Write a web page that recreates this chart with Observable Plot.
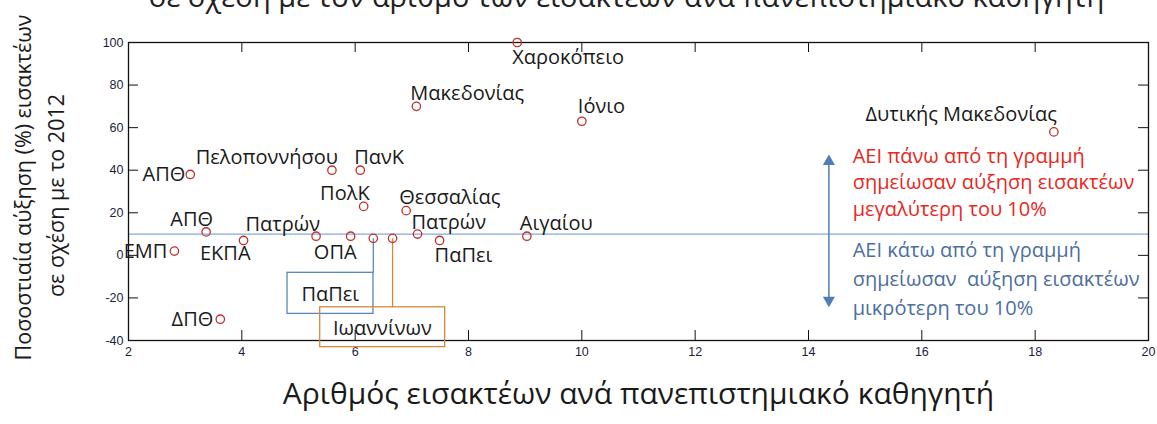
<!DOCTYPE html>
<html>
<head>
<meta charset="utf-8">
<script src="https://cdn.jsdelivr.net/npm/d3@7"></script>
<script src="https://cdn.jsdelivr.net/npm/@observablehq/plot@0.6"></script>
<style>
  html, body { margin: 0; padding: 0; background: white; }
  #chart { width: 1157px; height: 424px; overflow: hidden; }
</style>
</head>
<body>
<div id="chart"></div>
<script>
// ---- data ----
const universities = ["Χαροκόπειο","Μακεδονίας","Ιόνιο","Δυτικής Μακεδονίας","ΑΠΘ","Πελοποννήσου","ΠανΚ","ΠολΚ","Θεσσαλίας","Πατρών","ΠαΠει","Αιγαίου","Πατρών","ΟΠΑ","ΠαΠει","Ιωαννίνων","ΑΠΘ","ΕΚΠΑ","ΕΜΠ","ΔΠΘ"];
const studentsPerProfessor = [8.86, 7.08, 10.0, 18.33, 3.09, 5.59, 6.09, 6.15, 6.9, 7.1, 7.49, 9.03, 5.31, 5.92, 6.32, 6.66, 3.37, 4.03, 2.81, 3.62];
const increasePct = [100, 70, 63, 58, 38, 40, 40, 23, 21, 10, 7, 9, 9, 9, 8, 8, 11, 7, 2, -30];
const xTicks = [2, 4, 6, 8, 10, 12, 14, 16, 18, 20];
const yTicks = [-40, -20, 0, 20, 40, 60, 80, 100];
const threshold = 10;

const titleText = "σε σχέση με τον αριθμό των εισακτέων ανά πανεπιστημιακό καθηγητή";
const xLabel = "Αριθμός εισακτέων ανά πανεπιστημιακό καθηγητή";
const yLabel1 = "Ποσοστιαία αύξηση (%) εισακτέων";
const yLabel2 = "σε σχέση με το 2012";
const aboveNote = "ΑΕΙ πάνω από τη γραμμή\nσημείωσαν αύξηση εισακτέων\nμεγαλύτερη του 10%";
const belowNote = "ΑΕΙ κάτω από τη γραμμή\nσημείωσαν  αύξηση εισακτέων\nμικρότερη του 10%";

// callout boxes (index of point they refer to)
const callouts = [
  {point: 14, label: "ΠαΠει", x1: 4.806, x2: 6.323, y1: -8.2, y2: -27.5, tx: 5.56, ty: -18.3, color: "#5b86b8"},
  {point: 15, label: "Ιωαννίνων", x1: 5.383, x2: 7.588, y1: -24.4, y2: -43.1, tx: 6.48, ty: -34.2, color: "#d2893c"}
];
const arrowSpec = {x: 14.36, top: 46, bottom: -23, noteX: 14.78, aboveY: 35.0, belowY: -10.0};

// label placement (style) per point
const placement = [
  ["start",-5,15],["start",-6,-13],["start",-4,-15],["end",3,-17],["end",-5,0],
  ["end",6,-13],["start",-6,-13],["end",6,-13],["start",-7,-13],["start",-6,-11],
  ["start",-5,15],["start",-7,-13],["end",4,-12],["end",6,16],null,
  null,["end",7,-12],["end",7,13],["end",-7,0],["end",-7,0]
];

const points = universities.map((name, i) => ({name, x: studentsPerProfessor[i], y: increasePct[i], i}));

const W = 1157, H = 424, mL = 128, mR = 9, mT = 42, mB = 84;
const fw = W - mL - mR, fh = H - mT - mB;
const labelFont = "Open Sans, Noto Sans, sans-serif";

const labelMarks = points.filter(p => placement[p.i]).map(p => {
  const [anchor, dx, dy] = placement[p.i];
  return Plot.text([p], {x: "x", y: "y", text: "name", textAnchor: anchor, dx, dy,
    fontSize: 20, fill: "#1a1a1a", fontFamily: labelFont});
});

const chart = Plot.plot({
  width: W, height: H,
  marginLeft: mL, marginRight: mR, marginTop: mT, marginBottom: mB,
  x: {domain: [2, 20]},
  y: {domain: [-40, 100]},
  style: {background: "white", overflow: "visible"},
  marks: [
    // threshold line
    Plot.ruleY([threshold], {stroke: "#86aad4", strokeWidth: 1.2}),
    // inward ticks
    Plot.ruleX(xTicks.slice(1, -1), {insetTop: fh - 10, stroke: "#111"}),
    Plot.ruleX(xTicks.slice(1, -1), {insetBottom: fh - 10, stroke: "#111"}),
    Plot.ruleY(yTicks.slice(1, -1), {insetRight: fw - 10, stroke: "#111"}),
    Plot.ruleY(yTicks.slice(1, -1), {insetLeft: fw - 10, stroke: "#111"}),
    Plot.frame({stroke: "#111", strokeWidth: 1.3}),
    Plot.axisX({ticks: xTicks, tickSize: 0, tickPadding: 7, fontSize: 12.5, fill: "#1c1c40", fontFamily: "Liberation Sans, Arial, sans-serif", tickFormat: d => String(d)}),
    Plot.axisY({ticks: yTicks, tickSize: 0, tickPadding: 5, fontSize: 12.5, fill: "#1c1c40", fontFamily: "Liberation Sans, Arial, sans-serif", tickFormat: d => String(d)}),
    // callout leader lines and boxes
    Plot.link(callouts, {x1: d => studentsPerProfessor[d.point], x2: d => studentsPerProfessor[d.point],
      y1: d => increasePct[d.point], y2: "y1", stroke: "color", strokeWidth: 1.3}),
    Plot.rect(callouts, {x1: "x1", x2: "x2", y1: "y1", y2: "y2", fill: "white", fillOpacity: 0, stroke: "color", strokeWidth: 1.3}),
    Plot.text(callouts, {x: "tx", y: "ty", text: "label", fontSize: 20, fill: "#1a1a1a", fontFamily: labelFont}),
    // points
    Plot.dot(points, {x: "x", y: "y", r: 4.2, stroke: "#c0302a", strokeWidth: 1.3, fill: "none"}),
    ...labelMarks,
    // double arrow
    Plot.link([arrowSpec], {x1: "x", x2: "x", y1: "top", y2: "bottom", stroke: "#4f7db8", strokeWidth: 1.5}),
    Plot.dot([arrowSpec], {x: "x", y: "top", symbol: "triangle", r: 4.5, fill: "#4f7db8", dy: 4}),
    Plot.dot([arrowSpec], {x: "x", y: "bottom", symbol: "triangle", r: 4.5, fill: "#4f7db8", rotate: 180, dy: -4}),
    Plot.text([arrowSpec], {x: "noteX", y: "aboveY", text: () => aboveNote, textAnchor: "start", lineHeight: 1.33,
      fontSize: 20, fill: "#e8281e", fontFamily: labelFont}),
    Plot.text([arrowSpec], {x: "noteX", y: "belowY", text: () => belowNote, textAnchor: "start", lineHeight: 1.45,
      fontSize: 20, fill: "#4d6e9e", fontFamily: labelFont}),
    // titles
    Plot.text([titleText], {frameAnchor: "top", dx: -12, dy: -36, lineAnchor: "bottom", text: d => d, fontSize: 29, fill: "#222", fontFamily: labelFont}),
    Plot.text([xLabel], {frameAnchor: "bottom", dy: 63, text: d => d, fontSize: 30, fill: "#1a1a1a", fontFamily: labelFont}),
    Plot.text([yLabel1], {frameAnchor: "left", textAnchor: "middle", dx: -104, dy: -4, rotate: -90, text: d => d, fontSize: 21.5, fill: "#1a1a1a", fontFamily: labelFont}),
    Plot.text([yLabel2], {frameAnchor: "left", textAnchor: "middle", dx: -71, dy: 4, rotate: -90, text: d => d, fontSize: 21.5, fill: "#1a1a1a", fontFamily: labelFont})
  ]
});
document.getElementById("chart").appendChild(chart);
</script>
</body>
</html>
